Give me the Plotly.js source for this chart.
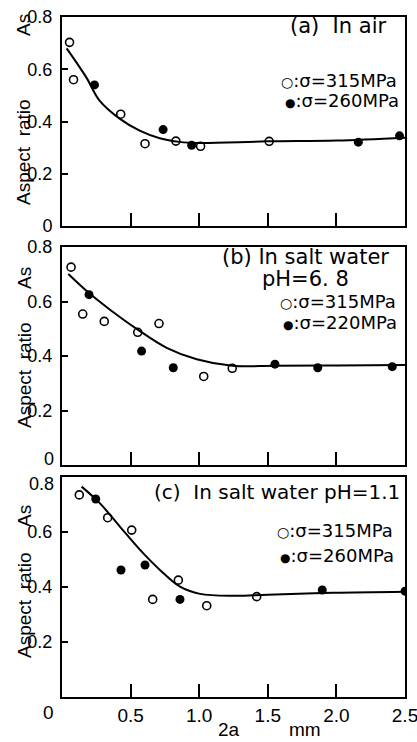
<!DOCTYPE html>
<html>
<head>
<meta charset="utf-8">
<script src="https://cdn.plot.ly/plotly-3.0.1.min.js"></script>
<style>html,body{margin:0;padding:0;background:#fff;}#chart{width:417px;height:742px;}</style>
</head>
<body>
<div id="chart"></div>
<script>
// ---- Data ----
// Panel (a) In air
const aOpenX = [0.055, 0.084, 0.428, 0.605, 0.83, 1.01, 1.51];
const aOpenY = [0.703, 0.560, 0.428, 0.315, 0.325, 0.305, 0.324];
const aFillX = [0.237, 0.737, 0.945, 2.16, 2.46];
const aFillY = [0.540, 0.369, 0.309, 0.321, 0.345];
const aFitX = [0.034, 0.177, 0.274, 0.42, 0.566, 0.712, 0.857, 1.0, 1.5, 2.0, 2.5];
const aFitY = [0.680, 0.569, 0.480, 0.411, 0.365, 0.336, 0.322, 0.318, 0.324, 0.327, 0.338];

// Panel (b) In salt water pH=6.8
const bOpenX = [0.066, 0.151, 0.308, 0.552, 0.707, 1.033, 1.241];
const bOpenY = [0.726, 0.554, 0.527, 0.487, 0.519, 0.325, 0.355];
const bFillX = [0.197, 0.58, 0.811, 1.552, 1.864, 2.407];
const bFillY = [0.625, 0.418, 0.357, 0.370, 0.357, 0.361];
const bFitX = [0.046, 0.197, 0.35, 0.552, 0.763, 0.982, 1.241, 1.55, 2.0, 2.5];
const bFitY = [0.701, 0.631, 0.570, 0.497, 0.430, 0.388, 0.364, 0.364, 0.365, 0.367];

// Panel (c) In salt water pH=1.1
const cOpenX = [0.126, 0.333, 0.508, 0.661, 0.848, 1.055, 1.419];
const cOpenY = [0.735, 0.652, 0.607, 0.355, 0.425, 0.332, 0.365];
const cFillX = [0.246, 0.43, 0.605, 0.86, 1.897, 2.5];
const cFillY = [0.720, 0.462, 0.480, 0.355, 0.389, 0.385];
const cFitX = [0.143, 0.277, 0.423, 0.569, 0.714, 0.86, 1.006, 1.249, 1.5, 1.978, 2.5];
const cFitY = [0.765, 0.704, 0.619, 0.535, 0.462, 0.401, 0.375, 0.368, 0.372, 0.379, 0.383];

// Tick labels and texts
const xTickVals = [0.5, 1.0, 1.5, 2.0, 2.5];
const xTickText = ["0.5", "1.0", "1.5", "2.0", "2.5"];
const yTickVals = [0, 0.2, 0.4, 0.6, 0.8];
const yTickTextA = ["0", "0.2", "0.4", "0.6", "0.8"];
const yTickTextB = ["", "0.2", "0.4", "0.6", "0.8"];
const yTickValsC = [0.2, 0.4, 0.6, 0.8];
const yTickTextC = ["0.2", "0.4", "0.6", ""];
const panelTitles = ["(a)  In air", "(b) In salt water", "(c)  In salt water pH=1.1"];
const panelSub = "pH=6. 8";
const legOpen = ["σ=315MPa", "σ=315MPa", "σ=315MPa"];
const legFill = ["σ=260MPa", "σ=220MPa", "σ=260MPa"];
const yTitle = "Aspect  ratio";
const yTitleSym = "As";
const xTitleVar = "2a";
const xTitleUnit = "mm";

// ---- Styles ----
const FONT = "Liberation Sans, Arial, sans-serif";
const FONT2 = "DejaVu Sans, sans-serif";
const W = 417, H = 742, ML = 62, MR = 12, MT = 17, MB = 45;
const PW = W - ML - MR, PH = H - MT - MB;
const px2x = p => (p - ML) / PW;
const py2y = p => (H - MB - p) / PH;

function openTrace(x, y, xa, ya) {
  return {x, y, xaxis: xa, yaxis: ya, type: "scatter", mode: "markers",
    marker: {symbol: "circle-open", size: 8, color: "black", line: {width: 1.6, color: "black"}},
    showlegend: false, hoverinfo: "skip"};
}
function fillTrace(x, y, xa, ya) {
  return {x, y, xaxis: xa, yaxis: ya, type: "scatter", mode: "markers",
    marker: {symbol: "circle", size: 9, color: "black"}, showlegend: false, hoverinfo: "skip"};
}
function fitTrace(x, y, xa, ya) {
  return {x, y, xaxis: xa, yaxis: ya, type: "scatter", mode: "lines",
    line: {color: "black", width: 2, shape: "spline", smoothing: 1.0}, showlegend: false, hoverinfo: "skip"};
}

const data = [
  fitTrace(aFitX, aFitY, "x", "y"), openTrace(aOpenX, aOpenY, "x", "y"), fillTrace(aFillX, aFillY, "x", "y"),
  fitTrace(bFitX, bFitY, "x2", "y2"), openTrace(bOpenX, bOpenY, "x2", "y2"), fillTrace(bFillX, bFillY, "x2", "y2"),
  fitTrace(cFitX, cFitY, "x3", "y3"), openTrace(cOpenX, cOpenY, "x3", "y3"), fillTrace(cFillX, cFillY, "x3", "y3")
];

function xAxis(anchor, labels) {
  return {domain: [0, 1], anchor, range: [0, 2.5], showline: true, mirror: true, linewidth: 2, linecolor: "black",
    showgrid: false, zeroline: false, ticks: "inside", ticklen: 13, tickwidth: 2, tickcolor: "black",
    tickvals: xTickVals, ticktext: xTickText, showticklabels: labels, ticklabelstandoff: 0,
    ticklabeloverflow: "allow",
    tickfont: {family: FONT, size: 19, color: "black"}};
}
function yAxis(anchor, domain, vals, text) {
  return {domain, anchor, range: [0, 0.8], showline: true, mirror: true, linewidth: 2, linecolor: "black",
    showgrid: false, zeroline: false, ticks: "inside", ticklen: 6, tickwidth: 2, tickcolor: "black",
    tickvals: vals, ticktext: text, ticklabelstandoff: 4,
    tickfont: {family: FONT, size: 18, color: "black"}};
}

const ann = [];
function txt(text, cx, cy, size, opts) {
  opts = opts || {};
  ann.push({text, x: px2x(cx), y: py2y(cy), xref: "paper", yref: "paper",
    xanchor: opts.xanchor || "center", yanchor: opts.yanchor || "middle",
    showarrow: false, textangle: opts.angle || 0,
    font: {family: opts.family || FONT, size, color: "black"}});
}
const OPEN_SYM = '<span style="font-size:14px">○</span>';
const FILL_SYM = '<span style="font-size:12px">●</span>';
// Panel (a)
txt(panelTitles[0], 338, 26, 21, {family: FONT2});
txt(OPEN_SYM + ":" + legOpen[0], 339, 80, 18, {family: FONT2});
txt(FILL_SYM + ":" + legFill[0], 342, 100, 18, {family: FONT2});
// Panel (b)
txt(panelTitles[1], 305, 257, 21, {family: FONT2});
txt(panelSub, 305, 279, 21, {family: FONT2});
txt(OPEN_SYM + ":" + legOpen[1], 338, 301, 18, {family: FONT2});
txt(FILL_SYM + ":" + legFill[1], 340, 322, 18, {family: FONT2});
// Panel (c)
txt(panelTitles[2], 277, 492, 20, {family: FONT2});
txt(OPEN_SYM + ":" + legOpen[2], 335, 530, 18, {family: FONT2});
txt(FILL_SYM + ":" + legFill[2], 337, 555, 18, {family: FONT2});
// y titles
txt(yTitle, 24, 152, 19, {angle: -90}); txt(yTitleSym, 24, 25, 19, {angle: -90});
txt(yTitle, 24, 375, 19, {angle: -90}); txt(yTitleSym, 24, 278, 19, {angle: -90});
txt(yTitle, 24, 605, 19, {angle: -90}); txt(yTitleSym, 24, 516, 19, {angle: -90});
// tick labels at crowded panel joins
txt("0", 56, 459, 18, {xanchor: "right"});
txt("0.8", 56, 484, 18, {xanchor: "right"});
// shared origin label and x title
txt("0", 48, 712, 19);
txt(xTitleVar, 229, 742, 19, {yanchor: "bottom"});
txt(xTitleUnit, 305, 742, 19, {yanchor: "bottom"});

const layout = {
  width: W, height: H, margin: {l: ML, r: MR, t: MT, b: MB},
  paper_bgcolor: "white", plot_bgcolor: "white", showlegend: false,
  font: {family: FONT, color: "black"},
  xaxis: xAxis("y", false), yaxis: yAxis("x", [py2y(226), py2y(17)], yTickVals, yTickTextA),
  xaxis2: xAxis("y2", false), yaxis2: yAxis("x2", [py2y(465), py2y(247)], yTickVals, yTickTextB),
  xaxis3: xAxis("y3", true), yaxis3: yAxis("x3", [py2y(697), py2y(477)], yTickValsC, yTickTextC),
  annotations: ann
};

Plotly.newPlot("chart", data, layout, {staticPlot: true, displayModeBar: false});
</script>
</body>
</html>
